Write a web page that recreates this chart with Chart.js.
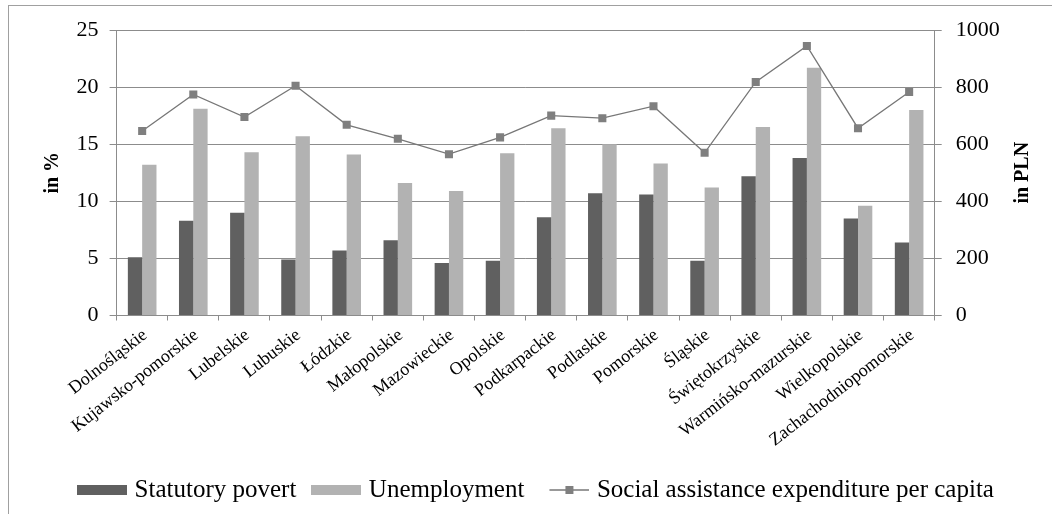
<!DOCTYPE html>
<html>
<head>
<meta charset="utf-8">
<script src="https://cdn.jsdelivr.net/npm/chart.js@4"></script>
<style>
  html, body { margin: 0; padding: 0; background: #fff; overflow: hidden; }
  #wrap { width: 1052px; height: 514px; position: relative; }
</style>
</head>
<body>
<div id="wrap"><canvas id="regionChart"></canvas></div>
<script>
const regions = ["Dolnośląskie", "Kujawsko-pomorskie", "Lubelskie", "Lubuskie", "Łódzkie",
    "Małopolskie", "Mazowieckie", "Opolskie", "Podkarpackie", "Podlaskie", "Pomorskie",
    "Śląskie", "Świętokrzyskie", "Warmińsko-mazurskie", "Wielkopolskie", "Zachachodniopomorskie"];
const povertyRate = [5.1, 8.3, 9.0, 4.9, 5.7, 6.6, 4.6, 4.8, 8.6, 10.7, 10.6, 4.8, 12.2, 13.8, 8.5, 6.4];
const unemploymentRate = [13.2, 18.1, 14.3, 15.7, 14.1, 11.6, 10.9, 14.2, 16.4, 15.0, 13.3, 11.2, 16.5, 21.7, 9.6, 18.0];
const assistancePerCapita = [646, 774, 695, 805, 668, 619, 565, 624, 700, 691, 733, 570, 818, 944, 656, 783];
const percentTicks = [0, 5, 10, 15, 20, 25];
const plnTicks = [0, 200, 400, 600, 800, 1000];

const serif = "'Liberation Serif', 'Times New Roman', serif";
const gridGray = "#8c8c8c";

// little canvases used as legend symbols
function barSymbol(color) {
    const c = document.createElement("canvas");
    c.width = 50; c.height = 10;
    const g = c.getContext("2d");
    g.fillStyle = color;
    g.fillRect(0, 0, 50, 10);
    return c;
}
function lineSymbol(color) {
    const c = document.createElement("canvas");
    c.width = 50; c.height = 10;
    const g = c.getContext("2d");
    g.strokeStyle = color;
    g.lineWidth = 1.5;
    g.beginPath();
    g.moveTo(10, 5); g.lineTo(50, 5);
    g.stroke();
    g.fillStyle = "#7f7f7f";
    g.fillRect(26, 1, 8, 8);
    return c;
}

// outer frame + right axis title (reads bottom to top like the left one)
const extras = {
    id: "extras",
    beforeDraw(chart) {
        const ctx = chart.ctx;
        ctx.save();
        ctx.strokeStyle = "#a0a0a0";
        ctx.lineWidth = 1;
        ctx.strokeRect(8.5, 5.5, 2000, 2000);
        ctx.restore();
    },
    afterDraw(chart) {
        const ctx = chart.ctx;
        const area = chart.chartArea;
        ctx.save();
        ctx.translate(1023, (area.top + area.bottom) / 2);
        ctx.rotate(-Math.PI / 2);
        ctx.font = "bold 20px " + serif;
        ctx.fillStyle = "#000";
        ctx.textAlign = "center";
        ctx.textBaseline = "middle";
        ctx.fillText("in PLN", 0, 0);
        ctx.restore();
    }
};

const ctx = document.getElementById("regionChart").getContext("2d");
new Chart(ctx, {
    type: "bar",
    data: {
        labels: regions,
        datasets: [{
            label: "Statutory povert",
            data: povertyRate,
            backgroundColor: "#606060",
            yAxisID: "y",
            order: 1,
            categoryPercentage: 0.56,
            barPercentage: 1.0
        }, {
            label: "Unemployment",
            data: unemploymentRate,
            backgroundColor: "#b2b2b2",
            yAxisID: "y",
            order: 1,
            categoryPercentage: 0.56,
            barPercentage: 1.0
        }, {
            type: "line",
            label: "Social assistance expenditure per capita",
            data: assistancePerCapita,
            borderColor: "#777777",
            borderWidth: 1.3,
            backgroundColor: "#7f7f7f",
            pointStyle: "rect",
            pointRadius: 5.7,
            pointBorderWidth: 0,
            tension: 0,
            yAxisID: "y1",
            order: 0
        }]
    },
    options: {
        responsive: true,
        maintainAspectRatio: false,
        animation: false,
        layout: { padding: { left: 37, right: 13, top: 30, bottom: 1.5 } },
        scales: {
            x: {
                grid: { offset: true, drawOnChartArea: false, tickLength: 5, color: gridGray },
                border: { color: gridGray },
                ticks: {
                    font: { family: serif, size: 18 },
                    color: "#000",
                    minRotation: 38,
                    maxRotation: 38,
                    autoSkip: false,
                    padding: 4,
                    labelOffset: 3
                },
                afterFit(scale) { scale.height = 142; }
            },
            y: {
                position: "left",
                min: 0,
                max: 25,
                afterBuildTicks(scale) { scale.ticks = percentTicks.map(v => ({ value: v })); },
                grid: { color: gridGray, tickLength: 7 },
                border: { color: gridGray },
                ticks: {
                    font: { family: serif, size: 22 },
                    color: "#000",
                    padding: 11,
                    callback: v => String(v)
                },
                title: {
                    display: true,
                    text: "in %",
                    font: { family: serif, size: 20, weight: "bold" },
                    color: "#000",
                    padding: { top: 4, bottom: 4 }
                },
                afterFit(scale) { scale.width = 79.6; }
            },
            y1: {
                position: "right",
                min: 0,
                max: 1000,
                afterBuildTicks(scale) { scale.ticks = plnTicks.map(v => ({ value: v })); },
                grid: { drawOnChartArea: false, color: gridGray, tickLength: 7 },
                border: { color: gridGray },
                ticks: {
                    font: { family: serif, size: 22 },
                    color: "#000",
                    padding: 14,
                    callback: v => String(v)
                },
                afterFit(scale) { scale.width = 104.3; }
            }
        },
        plugins: {
            tooltip: { enabled: false },
            legend: {
                position: "bottom",
                labels: {
                    font: { family: serif, size: 25 },
                    color: "#000",
                    usePointStyle: true,
                    pointStyleWidth: 40,
                    padding: 20,
                    generateLabels(chart) {
                        const items = Chart.defaults.plugins.legend.labels.generateLabels(chart);
                        items.sort((a, b) => a.datasetIndex - b.datasetIndex);
                        items.forEach(item => {
                            item.pointStyle = item.datasetIndex === 2
                                ? lineSymbol("#777777")
                                : barSymbol(chart.data.datasets[item.datasetIndex].backgroundColor);
                        });
                        return items;
                    }
                }
            }
        }
    },
    plugins: [extras]
});
</script>
</body>
</html>
